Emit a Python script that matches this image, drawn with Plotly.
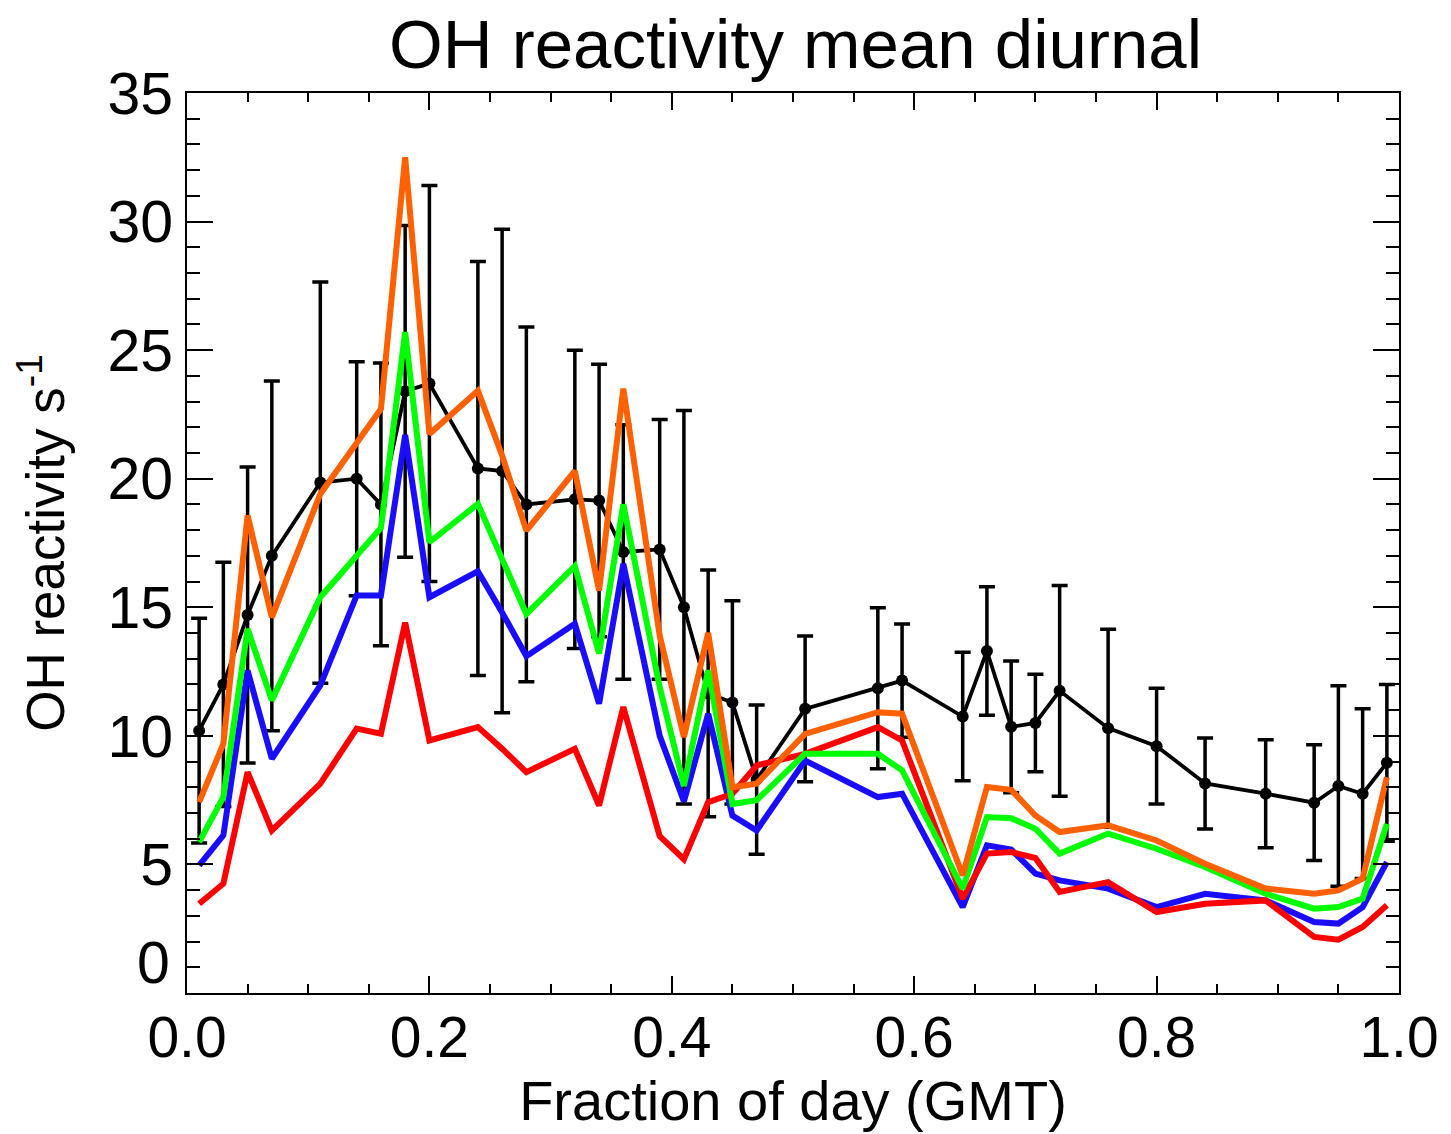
import plotly.graph_objects as go

# ---- data ----
frac_day = [0.01, 0.03, 0.05, 0.07, 0.11, 0.14, 0.16, 0.18, 0.20, 0.24, 0.26, 0.28,
            0.32, 0.34, 0.36, 0.39, 0.41, 0.43, 0.45, 0.47, 0.51, 0.57, 0.59, 0.64,
            0.66, 0.68, 0.70, 0.72, 0.76, 0.80, 0.84, 0.89, 0.93, 0.95, 0.97, 0.99]

obs_mean = [10.2, 12.0, 14.7, 17.0, 19.85, 20.0, 19.0, 23.4, 23.7, 20.4, 20.3, 19.0,
            19.2, 19.15, 17.15, 17.25, 15.0, 11.65, 11.3, 8.3, 11.05, 11.85, 12.15, 10.75,
            13.3, 10.35, 10.5, 11.75, 10.3, 9.6, 8.15, 7.75, 7.4, 8.05, 7.75, 8.95]

obs_err = [4.37, 4.75, 5.76, 6.8, 7.8, 4.55, 5.5, 6.45, 7.7, 8.05, 9.4, 6.9,
           5.8, 5.3, 4.95, 5.05, 7.65, 4.8, 3.95, 2.9, 2.83, 3.13, 2.2, 2.5,
           2.5, 2.56, 1.9, 4.1, 3.85, 2.25, 1.77, 2.1, 2.25, 3.9, 3.3, 3.05]

model_orange = [7.42, 9.69, 18.57, 14.61, 19.41, 21.45, 22.71, 32.5, 21.74, 23.42, 20.9, 17.98,
                20.3, 15.65, 23.5, 13.9, 9.95, 14.0, 8.0, 8.14, 10.08, 10.92, 10.86, 4.57,
                8.01, 7.9, 6.9, 6.26, 6.52, 5.93, 5.03, 4.06, 3.86, 3.99, 4.45, 8.39]

model_green = [5.87, 7.62, 14.16, 11.38, 15.39, 17.0, 18.08, 25.7, 17.53, 19.02, 16.9, 14.74,
               16.6, 13.2, 19.0, 11.9, 8.05, 12.55, 7.35, 7.5, 9.3, 9.3, 8.66, 4.06,
               6.84, 6.8, 6.39, 5.42, 6.2, 5.61, 4.9, 3.86, 3.28, 3.34, 3.67, 6.58]

model_blue = [4.96, 6.13, 12.54, 9.11, 11.96, 15.46, 15.46, 21.7, 15.39, 16.4, 14.8, 13.1,
              14.36, 11.25, 16.69, 10.0, 7.45, 10.86, 6.9, 6.32, 9.04, 7.62, 7.75, 3.34,
              5.74, 5.58, 4.64, 4.38, 4.06, 3.34, 3.86, 3.6, 2.76, 2.7, 3.34, 5.09]

model_red = [3.47, 4.25, 8.59, 6.32, 8.14, 10.28, 10.08, 14.4, 9.82, 10.34, 9.5, 8.59,
             9.5, 7.29, 11.12, 6.1, 5.2, 7.42, 7.75, 8.85, 9.3, 10.34, 9.82, 3.67,
             5.42, 5.48, 5.25, 3.93, 4.31, 3.15, 3.47, 3.6, 2.18, 2.07, 2.57, 3.41]

x_ticks = [0.0, 0.2, 0.4, 0.6, 0.8, 1.0]
x_ticklabels = ["0.0", "0.2", "0.4", "0.6", "0.8", "1.0"]
y_ticks = [5, 10, 15, 20, 25, 30, 35]
y_ticklabels = ["5", "10", "15", "20", "25", "30", "35"]

FONT = "Liberation Sans, Arial, Helvetica, sans-serif"

fig = go.Figure()

fig.add_trace(go.Scatter(
    x=frac_day, y=obs_mean, mode="lines+markers",
    line=dict(color="black", width=3.8),
    marker=dict(color="black", size=12, symbol="circle"),
    error_y=dict(type="data", array=obs_err, visible=True,
                 color="black", thickness=3.5, width=8),
    showlegend=False, cliponaxis=False,
))

for vals, col in [(model_blue, "#1a0dff"), (model_red, "#ff0000"),
                  (model_green, "#00ff00"), (model_orange, "#ff6000")]:
    fig.add_trace(go.Scatter(
        x=frac_day, y=vals, mode="lines",
        line=dict(color=col, width=6),
        showlegend=False,
    ))

axis_common = dict(
    showline=True, linecolor="black", linewidth=2,
    mirror="ticks", ticks="inside", tickcolor="black", tickwidth=2,
    showgrid=False, zeroline=False,
)

fig.update_xaxes(
    **axis_common,
    tickfont=dict(family=FONT, size=57, color="black"),
    range=[0, 1], tickvals=x_ticks, ticktext=x_ticklabels, ticklen=17,
    minor=dict(dtick=0.05, ticklen=9, tickwidth=2, tickcolor="black", ticks="inside", showgrid=False),
    ticklabelstandoff=-6,
    title=dict(text="Fraction of day (GMT)", font=dict(family=FONT, size=56, color="black"),
               standoff=10),
)
fig.update_yaxes(
    **axis_common,
    tickfont=dict(family=FONT, size=59, color="black"),
    range=[0, 35], tickvals=y_ticks, ticktext=y_ticklabels, ticklen=26,
    minor=dict(dtick=1, tickvals=list(range(0, 36)), ticklen=13, tickwidth=2, tickcolor="black",
               ticks="inside", showgrid=False),
    ticklabelstandoff=0,
    title=dict(text="OH reactivity s<sup>-1</sup>", font=dict(family=FONT, size=53, color="black"),
               standoff=28),
)

# the "0" tick label sits slightly above the axis corner in the reference
fig.add_annotation(x=0, y=0, xref="paper", yref="y", text="0", showarrow=False,
                   xanchor="right", yanchor="middle", xshift=-15, yshift=30,
                   font=dict(family=FONT, size=59, color="black"))

# page body has an 8px margin, so the figure is sized to fit the window
fig.update_layout(
    width=1443, height=1126,
    paper_bgcolor="white", plot_bgcolor="white",
    margin=dict(l=179, r=47, t=85, b=141),
    title=dict(text="OH reactivity mean diurnal", x=(787.5) / 1443, xanchor="center",
               y=1 - 36 / 1126, yanchor="middle", xref="container", yref="container",
               font=dict(family=FONT, size=69, color="black")),
)

fig.write_html("out.html")
